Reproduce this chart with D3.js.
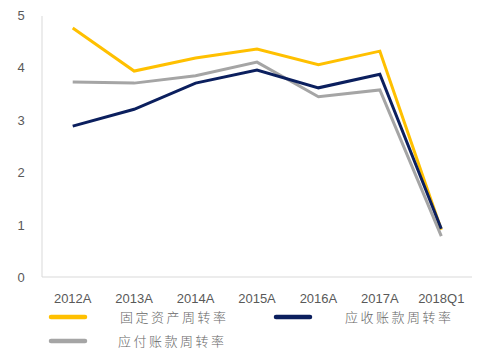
<!DOCTYPE html>
<html><head><meta charset="utf-8">
<script src="https://cdnjs.cloudflare.com/ajax/libs/d3/7.8.5/d3.min.js"></script>
<style>body{margin:0;background:#fff}svg{display:block}</style>
</head><body>
<svg id="c" width="484" height="356"></svg>
<script>
const categories = ["2012A","2013A","2014A","2015A","2016A","2017A","2018Q1"];
const fixedAsset = [4.75,3.93,4.18,4.35,4.05,4.31,0.90];
const receivable = [2.88,3.20,3.70,3.95,3.61,3.87,0.92];
const payable = [3.72,3.70,3.84,4.10,3.44,3.57,0.78];
const seriesNames = ["固定资产周转率","应收账款周转率","应付账款周转率"];
const yTicks = [0,1,2,3,4,5];

const svg = d3.select("#c");
const x = d3.scaleBand().domain(categories).range([42,472]);
const y = d3.scaleLinear().domain([0,5]).range([277,15]);

svg.append("line").attr("x1",42).attr("x2",42).attr("y1",y(5)+1).attr("y2",y(0)).attr("stroke","#d9d9d9").attr("stroke-width",1);
svg.append("line").attr("x1",42).attr("x2",472).attr("y1",y(0)).attr("y2",y(0)).attr("stroke","#d9d9d9").attr("stroke-width",1);

svg.selectAll(".yt").data(yTicks).enter().append("text")
  .attr("x",21).attr("y",d=>y(d)+5).attr("text-anchor","middle")
  .attr("font-family","Liberation Sans, Arial, sans-serif").attr("font-size",13).attr("fill","#595959")
  .text(d=>d);

svg.selectAll(".xt").data(categories).enter().append("text")
  .attr("x",d=>x(d)+x.bandwidth()/2).attr("y",303).attr("text-anchor","middle")
  .attr("font-family","Liberation Sans, Arial, sans-serif").attr("font-size",13).attr("fill","#595959")
  .text(d=>d);

const series = [
  {name:seriesNames[0], values:fixedAsset, color:"#FFC000"},
  {name:seriesNames[2], values:payable, color:"#A5A5A5"},
  {name:seriesNames[1], values:receivable, color:"#0B1F5E"}
];
const line = d3.line().x((d,i)=>x(categories[i])+x.bandwidth()/2).y(d=>y(d));
series.forEach(s=>{
  svg.append("path").attr("d",line(s.values)).attr("fill","none")
    .attr("stroke",s.color).attr("stroke-width",3).attr("stroke-linejoin","miter");
});

const legend = [
  {name:seriesNames[0], color:"#FFC000", lx:51, tx:120, y:317},
  {name:seriesNames[1], color:"#0B1F5E", lx:276, tx:345, y:317},
  {name:seriesNames[2], color:"#A5A5A5", lx:51, tx:118, y:341}
];
legend.forEach(l=>{
  svg.append("line").attr("x1",l.lx).attr("x2",l.lx+34).attr("y1",l.y).attr("y2",l.y)
    .attr("stroke",l.color).attr("stroke-width",4.5).attr("stroke-linecap","round");
  svg.append("text").attr("x",l.tx).attr("y",l.y+5)
    .attr("font-family","Noto Sans CJK SC, sans-serif").attr("font-size",13).attr("font-weight",300)
    .attr("letter-spacing",2.5).attr("fill","#666666").text(l.name);
});
</script>
</body></html>
